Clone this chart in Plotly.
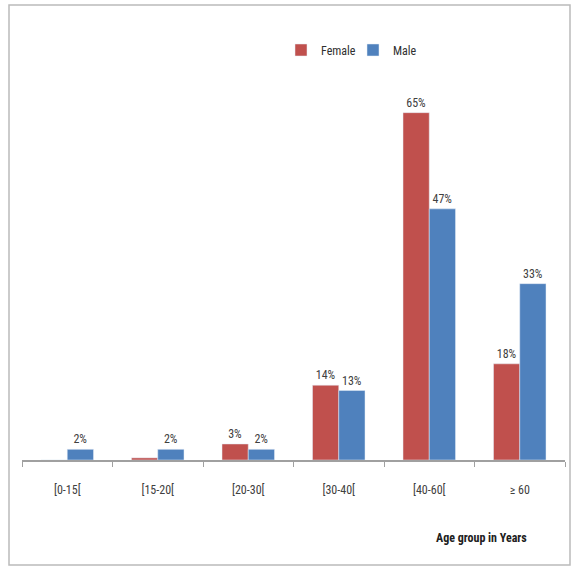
import plotly.graph_objects as go

# Age groups and percentage of patients by sex
age_groups = ["[0-15[", "[15-20[", "[20-30[", "[30-40[", "[40-60[", "≥ 60"]
female_pct = [0, 0.4, 3, 14, 65, 18]
male_pct = [2, 2, 2, 13, 47, 33]
female_text = ["", "", "3%", "14%", "65%", "18%"]
male_text = ["2%", "2%", "2%", "13%", "47%", "33%"]

W, H = 574, 571
ML, MR, MT, MB = 22, 9, 40, 111
FONT = "Liberation Sans Narrow, Arial Narrow, Roboto Condensed, sans-serif"

fig = go.Figure()
fig.add_trace(go.Bar(
    name="Female", x=age_groups, y=female_pct, text=female_text,
    textposition="outside", marker_color="#C0504D", cliponaxis=False,
    textfont=dict(size=12, color="#404040"),
))
fig.add_trace(go.Bar(
    name="Male", x=age_groups, y=male_pct, text=male_text,
    textposition="outside", marker_color="#4F81BD", cliponaxis=False,
    textfont=dict(size=12, color="#404040"),
))

pw = W - ML - MR
ph = H - MT - MB


def px_x(v):
    return (v - ML) / pw


def px_y(v):
    return (H - MB - v) / ph


# Outer chart frame
fig.add_shape(type="rect", xref="paper", yref="paper",
              x0=px_x(9), x1=px_x(570), y0=px_y(565), y1=px_y(5),
              line=dict(color="#BBBBBB", width=1.5), fillcolor="rgba(0,0,0,0)")

fig.add_annotation(text="<b>Age group in Years</b>", xref="paper", yref="paper",
                   x=px_x(482), y=px_y(538), xanchor="center", yanchor="middle",
                   showarrow=False,
                   font=dict(size=12, color="#202020", family=FONT))

fig.update_layout(
    width=W, height=H,
    margin=dict(l=ML, r=MR, t=MT, b=MB),
    paper_bgcolor="white", plot_bgcolor="white",
    barmode="group", bargap=0.42, bargroupgap=0,
    font=dict(family=FONT, size=12, color="#404040"),
    showlegend=True,
    legend=dict(orientation="h", x=px_x(281), y=px_y(50), yanchor="middle",
                xanchor="left", font=dict(size=12, color="#303030"),
                itemwidth=30, entrywidth=27, entrywidthmode="pixels",
                traceorder="normal"),
    xaxis=dict(showline=True, linecolor="#A0A0A0", linewidth=1.5,
               ticks="outside", tickson="boundaries", ticklen=5,
               tickcolor="#A0A0A0", tickfont=dict(size=12, color="#404040"),
               ticklabelstandoff=18, showgrid=False),
    yaxis=dict(range=[0, 78.6], visible=False, showgrid=False),
)

fig.write_html("out.html")
